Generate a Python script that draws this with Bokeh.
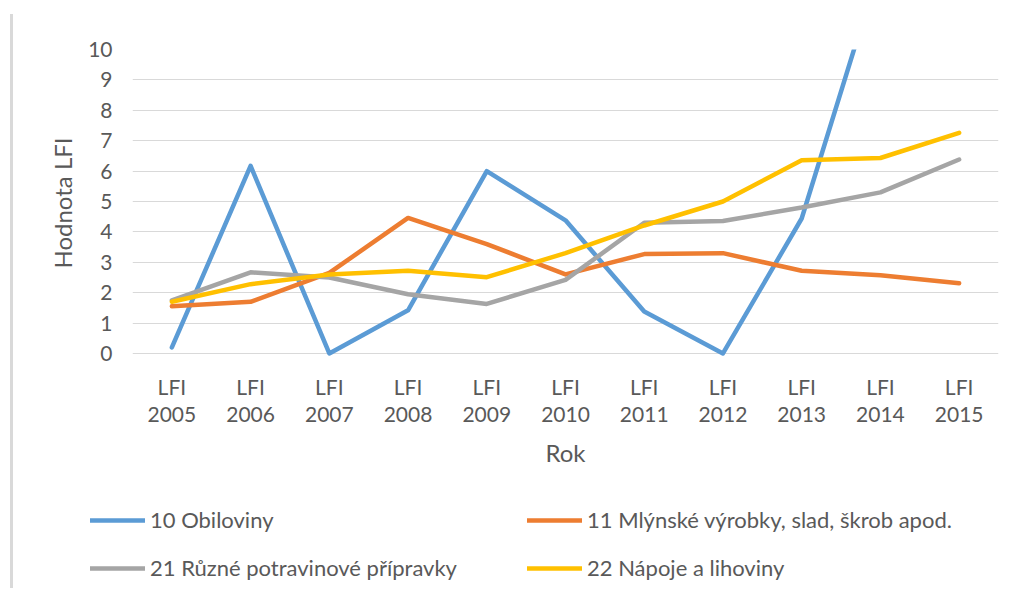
from bokeh.plotting import figure
from bokeh.models import Range1d, FactorRange, Legend, LegendItem
from bokeh.layouts import column
from bokeh.embed import file_html
from bokeh.resources import INLINE

years = ["2005", "2006", "2007", "2008", "2009", "2010", "2011", "2012", "2013", "2014", "2015"]
prefix = "LFI"
factors = [prefix + "\n" + y for y in years]
series_names = ["10 Obiloviny", "11 Mlýnské výrobky, slad, škrob apod.",
                "21 Různé potravinové přípravky", "22 Nápoje a lihoviny"]
obiloviny = [0.2, 6.17, 0.0, 1.42, 6.0, 4.38, 1.38, 0.0, 4.44, 12.8, 11.5]
mlynske = [1.55, 1.7, 2.65, 4.46, 3.6, 2.6, 3.27, 3.3, 2.72, 2.57, 2.31]
pripravky = [1.75, 2.67, 2.5, 1.95, 1.63, 2.42, 4.3, 4.36, 4.8, 5.3, 6.38]
napoje = [1.7, 2.28, 2.6, 2.72, 2.51, 3.3, 4.21, 5.0, 6.36, 6.43, 7.26]
colors = ["#5B9BD5", "#ED7D31", "#A5A5A5", "#FFC000"]
all_series = [obiloviny, mlynske, pripravky, napoje]

FONT = "Lato"
TXT = "#595959"
LW = 4.5

# ---- main chart ----
p = figure(width=1007, height=480, x_range=FactorRange(*factors), y_range=Range1d(-0.1, 10),
           output_backend="svg", toolbar_location=None,
           min_border_left=132, min_border_right=9, min_border_top=49, min_border_bottom=124)
p.outline_line_color = None
p.border_fill_color = None

for vals, c in zip(all_series, colors):
    p.line(factors, vals, line_color=c, line_width=LW, line_join="round", line_cap="round")

p.xgrid.grid_line_color = None
p.ygrid.grid_line_color = "#D9D9D9"
p.ygrid.grid_line_width = 1
p.yaxis.ticker = list(range(0, 11))
p.yaxis.axis_line_color = None
p.xaxis.axis_line_color = None
for ax in (p.xaxis, p.yaxis):
    ax.major_tick_line_color = None
    ax.minor_tick_line_color = None
    ax.major_tick_out = 0
    ax.major_tick_in = 0
    ax.major_label_text_font = FONT
    ax.major_label_text_font_size = "21px"
    ax.major_label_text_color = TXT
    ax.axis_label_text_font = FONT
    ax.axis_label_text_font_size = "24px"
    ax.axis_label_text_color = TXT
    ax.axis_label_text_font_style = "normal"
p.xaxis.major_label_text_line_height = 1.1
p.xaxis.axis_label = "Rok"
p.yaxis.axis_label = "Hodnota LFI"
p.xaxis.major_label_standoff = 17
p.xaxis.axis_label_standoff = 9
p.yaxis.major_label_standoff = 20
p.yaxis.axis_label_standoff = 8

# ---- legend strip ----
p2 = figure(width=1007, height=108, x_range=Range1d(-100, -99), y_range=Range1d(-100, -99),
            x_axis_type=None, y_axis_type=None, output_backend="svg", toolbar_location=None,
            min_border=0, min_border_left=0, min_border_right=0, min_border_top=0, min_border_bottom=0)
p2.outline_line_color = None
p2.border_fill_color = None
p2.background_fill_color = None
p2.grid.visible = False
p2.styles = {"transform": "translateX(-42px)"}
idx = list(range(len(years)))
dummies = [p2.line(idx, vals, line_color=c, line_width=LW, line_cap="round")
           for vals, c in zip(all_series, colors)]


def row_legend(ids, vy):
    return Legend(items=[LegendItem(label=series_names[i], renderers=[dummies[i]]) for i in ids],
                  location=(0, vy), orientation="horizontal",
                  padding=0, margin=0, spacing=28,
                  glyph_width=55, glyph_height=20, label_height=20, label_width=349, label_standoff=5,
                  label_text_font=FONT, label_text_font_size="22px", label_text_color=TXT,
                  border_line_alpha=0, background_fill_alpha=0)


p2.add_layout(row_legend([0, 1], 55), "center")
p2.add_layout(row_legend([2, 3], 7), "center")

layout = column(p, p2, spacing=0)
layout.styles = {
    "background-image": "linear-gradient(#D9D9D9, #D9D9D9)",
    "background-size": "3px 100%",
    "background-position": "10px 14px",
    "background-repeat": "no-repeat",
}

open("out.html", "w").write(file_html(layout, INLINE))
